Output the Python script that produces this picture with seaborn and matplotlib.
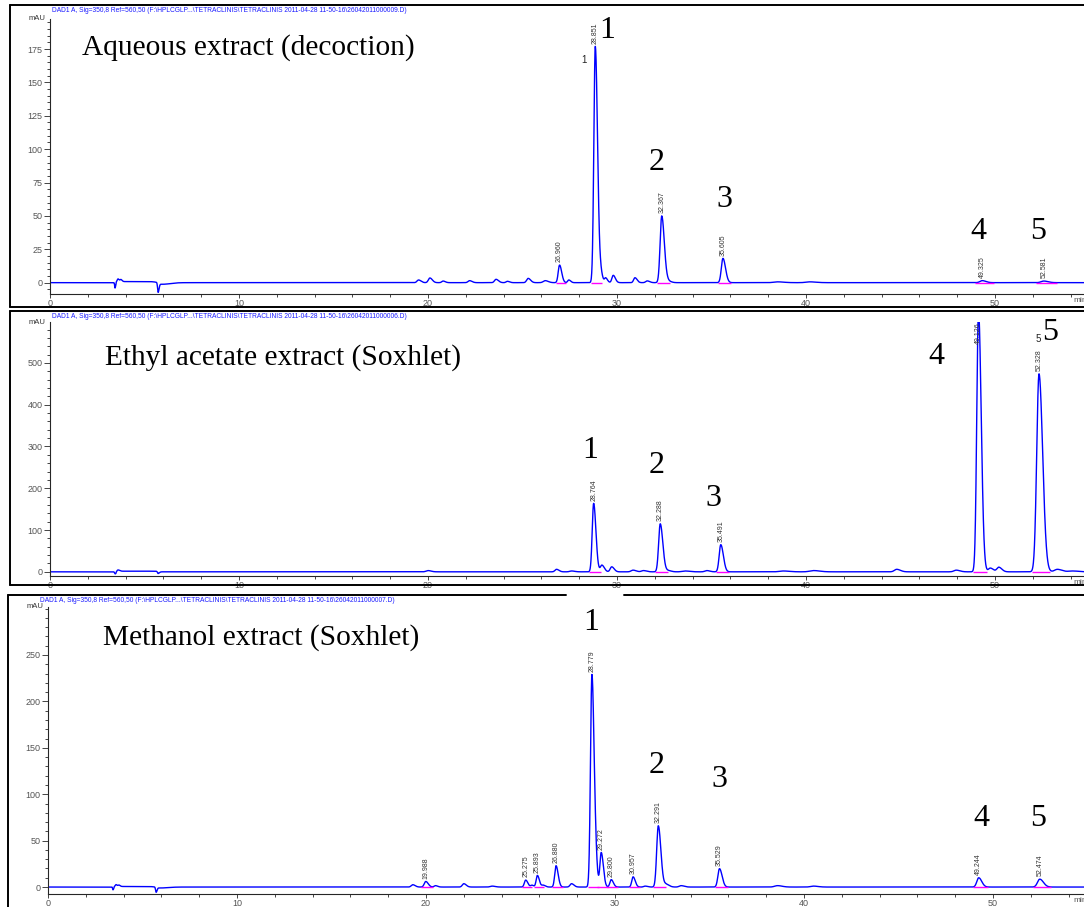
import numpy as np
import pandas as pd
import matplotlib.pyplot as plt
import seaborn as sns
from matplotlib.lines import Line2D
from matplotlib.ticker import MultipleLocator

sns.set_theme(style='ticks')
plt.rcParams['font.family'] = ['Liberation Sans', 'DejaVu Sans']

# ---- peak tables (min, mAU, min) ----
# Aqueous extract (decoction)
aq_rt = [3.44, 3.6, 3.75, 5.72, 5.95, 19.5, 20.1, 20.8, 22.2, 23.6, 24.2, 25.3, 26.2,
         26.96, 27.45, 28.851, 29.15, 29.4, 29.8, 30.95, 31.6, 32.367, 32.7, 35.605,
         38.5, 40.2, 49.325, 52.581]
aq_h = [-4, 2, 1.5, -6.5, -1.2, 2, 3.5, 1.2, 1.5, 2.5, 1, 3.2, 1.5,
        13.2, 2, 177, 6, 3.5, 5.5, 3.7, 1.3, 50, 1.2, 18.2,
        0.6, 0.6, 1.5, 1.2]
aq_w = [0.02, 0.04, 0.04, 0.03, 0.25, 0.08, 0.08, 0.07, 0.08, 0.08, 0.07, 0.08, 0.1,
        0.07, 0.06, 0.075, 0.06, 0.06, 0.07, 0.07, 0.08, 0.085, 0.1, 0.085,
        0.2, 0.2, 0.12, 0.14]
aq_labels = [26.960, 28.851, 32.367, 35.605, 49.325, 52.581]

# Ethyl acetate extract (Soxhlet)
ea_rt = [3.45, 3.6, 5.72, 20.0, 26.8, 27.6, 28.764, 29.2, 29.72, 30.85, 31.4, 32.288,
         32.7, 33.6, 34.75, 35.491, 38.8, 40.4, 44.8, 47.95, 49.126, 49.75, 50.2,
         52.328, 53.3, 54.1]
ea_h = [-5, 3, -4, 3, 6, 2, 164, 16, 12, 4, 3, 115,
        3, 2, 3, 65, 2, 3, 6, 4, 625, 9, 11,
        474, 6, 2]
ea_w = [0.03, 0.05, 0.04, 0.1, 0.08, 0.1, 0.075, 0.08, 0.08, 0.1, 0.1, 0.085,
        0.1, 0.15, 0.1, 0.085, 0.2, 0.2, 0.12, 0.12, 0.09, 0.1, 0.1,
        0.12, 0.15, 0.2]
ea_labels = [28.764, 32.288, 35.491, 49.126, 52.328]

# Methanol extract (Soxhlet)
me_rt = [3.44, 3.6, 3.75, 5.72, 5.95, 19.3, 19.988, 20.5, 22.0, 23.5, 25.275, 25.6,
         25.893, 26.2, 26.88, 27.7, 28.779, 29.0, 29.272, 29.8, 30.957, 31.6, 32.291,
         32.7, 33.5, 35.529, 38.6, 40.5, 49.244, 52.474]
me_h = [-3, 2, 1.5, -5, -1, 2.5, 6, 1.5, 3.6, 1, 7.5, 2,
        12.5, 2, 23, 3.6, 229, 12, 37, 8, 11, 1, 66,
        3, 1.5, 19.8, 1.5, 1, 10, 8.5]
me_w = [0.02, 0.04, 0.04, 0.03, 0.25, 0.08, 0.08, 0.07, 0.08, 0.1, 0.07, 0.06,
        0.065, 0.07, 0.07, 0.08, 0.075, 0.06, 0.07, 0.07, 0.07, 0.08, 0.085,
        0.1, 0.1, 0.085, 0.15, 0.15, 0.1, 0.12]
me_labels = [19.988, 25.275, 25.893, 26.880, 28.779, 29.272, 29.800, 30.957,
             32.291, 35.529, 49.244, 52.474]

# small injection plateau after the void disturbance
step_start, step_end = 3.5, 5.7
step_level = [0.8, 1.5, 0.6]

titles = ['Aqueous extract (decoction)', 'Ethyl acetate extract (Soxhlet)',
          'Methanol extract (Soxhlet)']
files = ['26042011000009.D', '26042011000006.D', '26042011000007.D']
peak_ids = ['1', '2', '3', '4', '5']

W, H = 1084, 907
fig = plt.figure(figsize=(W / 100, H / 100), dpi=100)


def build_trace(t, rts, hs, ws, level):
    y = np.where((t > step_start) & (t < step_end), level, 0.0)
    for rt, h, w in zip(rts, hs, ws):
        s = np.where(t < rt, w, w * 1.6)
        y = y + h * np.exp(-0.5 * ((t - rt) / s) ** 2)
    return y


def px_axes(left, top, bottom, right=W):
    return fig.add_axes([left / W, 1 - bottom / H, (right - left) / W, (bottom - top) / H])


def frame(x0, y0, x1, y1, **kw):
    fig.add_artist(Line2D([x0 / W, x1 / W], [1 - y0 / H, 1 - y1 / H],
                          transform=fig.transFigure, color='black', lw=1.4, **kw))


# panel layout in pixels: left, top, bottom, ylim, y major, y minor
panels = [
    dict(left=50, top=19, bottom=294, ylim=(-8.5, 197.5), major=25, minor=5,
         rts=aq_rt, hs=aq_h, ws=aq_w, labels=aq_labels,
         num_x=[29.5, 32.1, 35.7, 49.1, 52.3], num_y=[189, 90, 62, 38, 38],
         title_xy=(82, 48), head_xy=(52, 11)),
    dict(left=50, top=322, bottom=576, ylim=(-10, 598), major=100, minor=20,
         rts=ea_rt, hs=ea_h, ws=ea_w, labels=ea_labels,
         num_x=[28.6, 32.1, 35.1, 46.9, 52.9], num_y=[290, 254, 175, 515, 572],
         title_xy=(105, 358), head_xy=(52, 316)),
    dict(left=48, top=607, bottom=894, ylim=(-7.5, 301.7), major=50, minor=10,
         rts=me_rt, hs=me_h, ws=me_w, labels=me_labels,
         num_x=[28.73, 32.2, 35.5, 49.4, 52.4], num_y=[285, 131, 116, 74, 74],
         title_xy=(103, 638), head_xy=(40, 600)),
]

t = np.linspace(0, 56, 8000)
for i, p in enumerate(panels):
    ax = px_axes(p['left'], p['top'], p['bottom'])
    y = build_trace(t, p['rts'], p['hs'], p['ws'], step_level[i])
    df = pd.DataFrame({'time': t, 'mAU': y})
    sns.lineplot(data=df, x='time', y='mAU', ax=ax, color='#0000ff', lw=1.0,
                 estimator=None, sort=False)
    xmax = (W - p['left']) / 18.9
    ax.set_xlim(0, xmax)
    ax.set_ylim(*p['ylim'])
    ax.set_xlabel('')
    ax.set_ylabel('')
    ax.patch.set_alpha(0)
    for side in ['top', 'right']:
        ax.spines[side].set_visible(False)
    for side in ['left', 'bottom']:
        ax.spines[side].set_linewidth(0.8)
    ax.xaxis.set_major_locator(MultipleLocator(10))
    ax.xaxis.set_minor_locator(MultipleLocator(2))
    ax.yaxis.set_major_locator(MultipleLocator(p['major']))
    ax.yaxis.set_minor_locator(MultipleLocator(p['minor']))
    ax.tick_params(which='both', labelsize=6.5, labelcolor='#555555', width=0.6)
    ax.tick_params(axis='y', which='major', length=4, pad=1.5)
    ax.tick_params(axis='x', which='major', length=3, pad=0.5)
    ax.tick_params(which='minor', length=2)
    ax.set_yticks([v for v in np.arange(0, p['ylim'][1], p['major'])
                   if v < p['ylim'][1] - p['major'] * 0.5])
    ax.set_xticks([v for v in range(0, 60, 10) if v < xmax])
    ax.text(-0.004, 1.0, 'mAU', transform=ax.transAxes, ha='right', va='center',
            fontsize=5.5, color='#333333')

    # integration baselines and retention time labels
    ytop = p['ylim'][1]
    for rt in p['labels']:
        j = p['rts'].index(rt)
        w = p['ws'][j]
        ax.hlines(0, rt - 3 * w, rt + 5 * w, color='#ff00ff', lw=1, zorder=3)
        yp = float(np.interp(rt, t, y))
        if yp > ytop:
            ax.text(rt, ytop, f'{rt:.3f}', rotation=90, ha='center', va='top',
                    fontsize=5, color='#333333')
        else:
            ax.annotate(f'{rt:.3f}', (rt, yp), xytext=(0, 2), textcoords='offset points',
                        rotation=90, ha='center', va='bottom', fontsize=5, color='#333333')

    for lab, nx, ny in zip(peak_ids, p['num_x'], p['num_y']):
        ax.text(nx, ny, lab, ha='center', va='center', fontsize=23,
                family='Liberation Serif', color='black')

    fig.text(p['title_xy'][0] / W, 1 - p['title_xy'][1] / H, titles[i], ha='left',
             va='center', fontsize=21.2, family='Liberation Serif', color='black')
    fig.text(p['head_xy'][0] / W, 1 - p['head_xy'][1] / H,
             'DAD1 A, Sig=350,8 Ref=560,50 (F:\\HPLCGLP...\\TETRACLINIS\\TETRACLINIS '
             '2011-04-28 11-50-16\\' + files[i] + ')',
             ha='left', va='center', fontsize=4.8, color='#1a1aff')
    fig.text(1073 / W, 1 - (p['bottom'] + 7) / H, 'min', ha='left', va='center',
             fontsize=6, color='#555555')

    if i == 0:
        ax.text(28.25, 167, '1', ha='center', va='center', fontsize=7, color='#222222')
    if i == 1:
        ax.text(52.3, 557, '5', ha='center', va='center', fontsize=7, color='#222222')

# outer frames of the three exported reports
frame(10, 5, W, 5)
frame(10, 5, 10, 307)
frame(10, 307, W, 307)
frame(10, 311, W, 311)
frame(10, 311, 10, 585)
frame(10, 585, W, 585)
frame(8, 595, 566, 595)
frame(624, 595, W, 595)
frame(8, 595, 8, H)

fig.savefig('out.png', dpi=100)
